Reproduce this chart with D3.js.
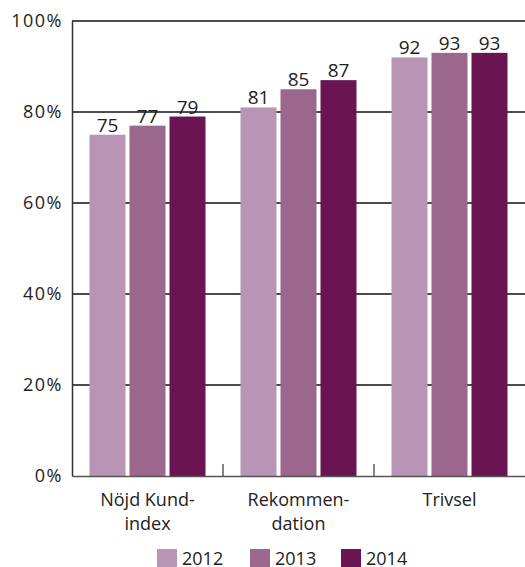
<!DOCTYPE html>
<html>
<head>
<meta charset="utf-8">
<script src="https://cdn.jsdelivr.net/npm/d3@7"></script>
<style>
  body { margin: 0; background: #fff; }
  text { font-family: "Open Sans", sans-serif; fill: #222; }
</style>
</head>
<body>
<script>
var categories = [["Nöjd Kund-", "index"], ["Rekommen-", "dation"], ["Trivsel"]];
var years = ["2012", "2013", "2014"];
var values2012 = [75, 81, 92];
var values2013 = [77, 85, 93];
var values2014 = [79, 87, 93];
var yTicks = [0, 20, 40, 60, 80, 100];
var colors = ["#b995b5", "#9c678c", "#6a1452"];

var series = [values2012, values2013, values2014];
var W = 525, H = 567;
var plotLeft = 72, plotRight = 525, plotTop = 21, plotBottom = 476;

var svg = d3.select("body").append("svg").attr("width", W).attr("height", H);

var x = d3.scaleBand().domain(d3.range(categories.length)).range([plotLeft, plotRight]);
var xi = d3.scaleBand().domain(d3.range(years.length)).range([0, 116]).paddingInner(0.1);
var y = d3.scaleLinear().domain([0, 100]).range([plotBottom, plotTop]);

// gridlines
svg.selectAll("line.grid")
  .data(yTicks.filter(function(d){return d > 0;}))
  .enter().append("line")
  .attr("class", "grid")
  .attr("x1", plotLeft).attr("x2", plotRight)
  .attr("y1", function(d){return y(d);}).attr("y2", function(d){return y(d);})
  .attr("stroke", "#111").attr("stroke-width", 1.5);

// bars
var groups = svg.selectAll("g.cat")
  .data(categories)
  .enter().append("g")
  .attr("class", "cat")
  .attr("transform", function(d, i){return "translate(" + (x(i) + (x.bandwidth() - 116) / 2) + ",0)";});

groups.selectAll("rect")
  .data(function(d, i){return series.map(function(s, j){return {v: s[i], j: j};});})
  .enter().append("rect")
  .attr("x", function(d){return xi(d.j);})
  .attr("width", xi.bandwidth())
  .attr("y", function(d){return y(d.v);})
  .attr("height", function(d){return plotBottom - y(d.v);})
  .attr("fill", function(d){return colors[d.j];});

groups.selectAll("text.val")
  .data(function(d, i){return series.map(function(s, j){return {v: s[i], j: j};});})
  .enter().append("text")
  .attr("class", "val")
  .attr("x", function(d){return xi(d.j) + xi.bandwidth() / 2;})
  .attr("y", function(d){return y(d.v) - 3;})
  .attr("text-anchor", "middle")
  .attr("font-size", 19)
  .text(function(d){return d.v;});

// y axis
var yAxis = d3.axisLeft(y).tickValues(yTicks).tickSize(0).tickPadding(9)
  .tickFormat(function(d){return d + "%";});
var gy = svg.append("g").attr("transform", "translate(" + plotLeft + ",0)").call(yAxis);
gy.select(".domain").attr("stroke", "#333").attr("stroke-width", 1.5);
gy.selectAll("text").attr("font-size", 18).attr("font-family", "Open Sans, sans-serif")
  .attr("fill", "#222").attr("letter-spacing", 1.5);

// x axis
var xAxis = d3.axisBottom(x).tickSize(0).tickFormat("");
var gx = svg.append("g").attr("transform", "translate(0," + plotBottom + ")").call(xAxis);
gx.select(".domain").attr("stroke", "#555").attr("stroke-width", 1.5);

// separator ticks between categories
svg.selectAll("line.sep")
  .data(d3.range(1, categories.length))
  .enter().append("line")
  .attr("class", "sep")
  .attr("x1", function(i){return x(i);}).attr("x2", function(i){return x(i);})
  .attr("y1", plotBottom - 12).attr("y2", plotBottom)
  .attr("stroke", "#333").attr("stroke-width", 1.2);

// category labels
var lab = svg.selectAll("text.cat")
  .data(categories)
  .enter().append("text")
  .attr("class", "cat")
  .attr("text-anchor", "middle")
  .attr("font-size", 18);
lab.selectAll("tspan")
  .data(function(d, i){return d.map(function(t){return {t: t, i: i};});})
  .enter().append("tspan")
  .attr("x", function(d){return x(d.i) + x.bandwidth() / 2;})
  .attr("y", function(d, k){return 506 + k * 24;})
  .text(function(d){return d.t;});

// legend
var legendX = d3.scaleOrdinal().domain(years).range([157, 250, 341]);
var leg = svg.selectAll("g.leg")
  .data(years)
  .enter().append("g")
  .attr("class", "leg")
  .attr("transform", function(d){return "translate(" + legendX(d) + ",549)";});
leg.append("rect").attr("width", 20).attr("height", 18)
  .attr("fill", function(d, i){return colors[i];});
leg.append("text").attr("x", 25).attr("y", 16).attr("font-size", 18)
  .text(function(d){return d;});
</script>
</body>
</html>
